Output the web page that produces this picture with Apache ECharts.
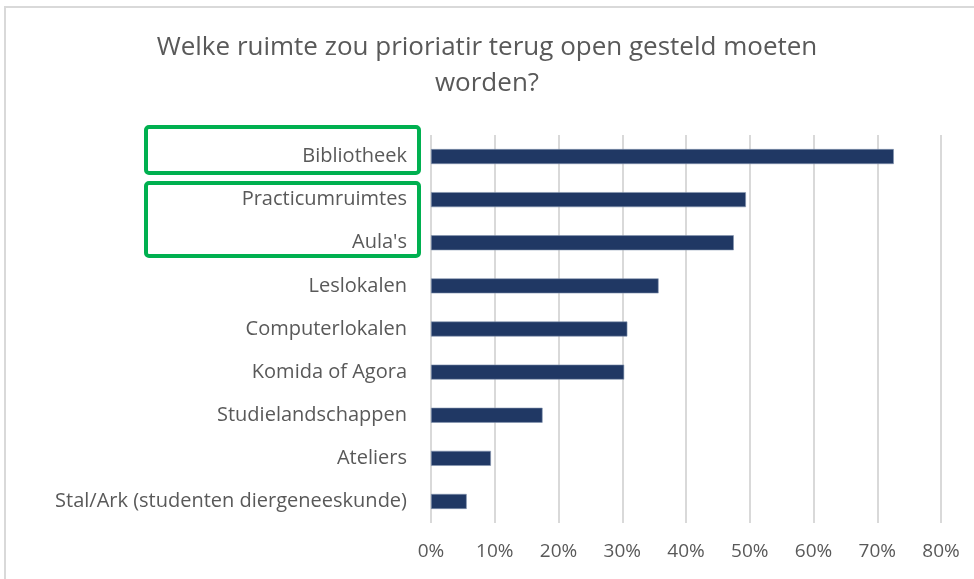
<!DOCTYPE html>
<html>
<head>
<meta charset="utf-8">
<script src="https://cdn.jsdelivr.net/npm/echarts@6/dist/echarts.min.js"></script>
<style>
  html, body { margin: 0; padding: 0; background: #fff; }
  #chart { width: 974px; height: 579px; }
</style>
</head>
<body>
<div id="chart"></div>
<script>
const TITLE = 'Welke ruimte zou prioriatir terug open gesteld moeten\nworden?';

const categories = [
  'Bibliotheek',
  'Practicumruimtes',
  "Aula's",
  'Leslokalen',
  'Computerlokalen',
  'Komida of Agora',
  'Studielandschappen',
  'Ateliers',
  'Stal/Ark (studenten diergeneeskunde)'
];
const shares = [72.6, 49.4, 47.5, 35.7, 30.8, 30.3, 17.5, 9.4, 5.6];
const xTicks = [0, 10, 20, 30, 40, 50, 60, 70, 80];

const FONT = '"Open Sans", Lato, sans-serif';
const TEXT_COLOR = '#595959';
const GREEN = '#00B050';

let chart = echarts.init(document.querySelector('#chart'));

chart.setOption({
  animation: false,
  backgroundColor: '#fff',
  title: {
    text: TITLE,
    left: 'center',
    top: 25,
    textStyle: {
      fontFamily: FONT,
      fontWeight: 'normal',
      fontSize: 26,
      color: TEXT_COLOR,
      lineHeight: 36
    }
  },
  grid: { left: 431, right: 33, top: 135, bottom: 56 },
  xAxis: {
    type: 'value',
    min: xTicks[0],
    max: xTicks[xTicks.length - 1],
    interval: 10,
    axisLine: { show: false },
    axisTick: { show: false },
    axisLabel: {
      formatter: '{value}%',
      fontFamily: FONT,
      fontSize: 19,
      color: TEXT_COLOR,
      margin: 19
    },
    splitLine: { lineStyle: { color: '#d9d9d9', width: 2 } }
  },
  yAxis: {
    type: 'category',
    data: categories,
    inverse: true,
    axisLine: { show: false },
    axisTick: { show: false },
    axisLabel: {
      fontFamily: FONT,
      fontSize: 20,
      color: TEXT_COLOR,
      margin: 24
    }
  },
  series: [{
    type: 'bar',
    data: shares,
    barWidth: 15,
    itemStyle: { color: '#203864', borderColor: '#8496b0', borderWidth: 0.6 }
  }],
  graphic: [
    {
      type: 'rect',
      shape: { x: 5, y: 7, width: 980, height: 600 },
      style: { fill: 'none', stroke: '#d9d9d9', lineWidth: 2 },
      silent: true
    },
    {
      type: 'rect',
      shape: { x: 146, y: 127, width: 273, height: 46, r: 3 },
      style: { fill: 'none', stroke: GREEN, lineWidth: 4 },
      silent: true
    },
    {
      type: 'rect',
      shape: { x: 146, y: 183, width: 273, height: 73, r: 3 },
      style: { fill: 'none', stroke: GREEN, lineWidth: 4 },
      silent: true
    }
  ]
});
</script>
</body>
</html>
